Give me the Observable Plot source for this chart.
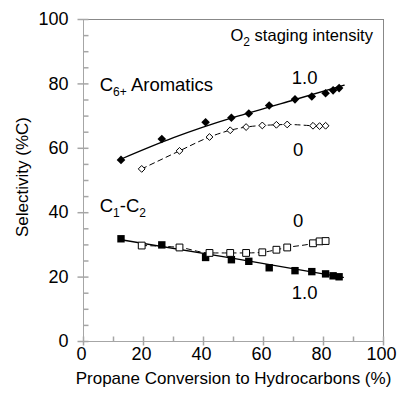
<!DOCTYPE html>
<html><head><meta charset="utf-8">
<script src="https://cdn.jsdelivr.net/npm/d3@7"></script>
<script src="https://cdn.jsdelivr.net/npm/@observablehq/plot@0.6"></script>
<style>body{margin:0;background:#fff}</style>
</head><body><div id="chart"></div>
<script>
// Propane conversion (%) for the two O2 staging intensities
const xStaged = [12.5, 26.1, 40.7, 49.3, 55.1, 61.9, 70.5, 76.1, 80.7, 83.2, 85.2];   // intensity 1.0
const xUnstaged = [19.4, 32.0, 42.0, 48.9, 54.2, 59.6, 64.3, 67.9, 76.5, 78.7, 80.7]; // intensity 0
// Selectivity (%C)
const aromStaged = [56.4, 62.9, 68.1, 69.5, 70.8, 73.3, 75.2, 76.1, 77.1, 78.0, 78.7];
const aromUnstaged = [53.6, 59.2, 63.5, 65.6, 66.6, 67.1, 67.3, 67.4, 67.0, 66.9, 67.0];
const c12Staged = [31.9, 30.0, 26.1, 25.4, 24.9, 22.9, 22.0, 21.7, 21.0, 20.4, 20.1];
const c12Unstaged = [29.8, 29.2, 27.5, 27.5, 27.5, 27.7, 28.5, 29.2, 30.5, 31.1, 31.2];
// trend lines (intensity 1.0)
const fitAromX = [12.4, 30, 50, 70, 86.9];
const fitAromY = [56.6, 63.3, 69.6, 75.0, 79.6];
const fitC12X = [12.5, 50, 86.6];
const fitC12Y = [31.6, 25.8, 19.9];
// axis ticks
const xMajor = [0, 20, 40, 60, 80, 100];
const xMinor = [10, 30, 50, 70, 90];
const yMajor = [0, 20, 40, 60, 80, 100];
const yMinor = [5, 10, 15, 25, 30, 35, 45, 50, 55, 65, 70, 75, 85, 90, 95];
// annotations
const titleText = "O_{2} staging intensity";
const titleX = 49.0, titleY = 95.0;
const labelText = ["C_{6+} Aromatics", "1.0", "0", "C_{1}-C_{2}", "0", "1.0"];
const labelX = [5.4, 69.4, 69.8, 5.4, 69.8, 69.4];
const labelY = [79.6, 81.7, 59.6, 42.2, 37.5, 15.1];

const zip = (xs, ys) => xs.map((x, i) => ({x, y: ys[i]}));
const labels = labelText.map((t, i) => ({t, x: labelX[i], y: labelY[i]}));

const diamond = h => ({draw(c) { c.moveTo(0, -h); c.lineTo(h, 0); c.lineTo(0, h); c.lineTo(-h, 0); c.closePath(); }});
const square = h => ({draw(c) { c.rect(-h, -h, 2 * h, 2 * h); }});
const vTick = (a, b) => ({draw(c) { c.moveTo(0, a); c.lineTo(0, b); }});
const hTick = (a, b) => ({draw(c) { c.moveTo(a, 0); c.lineTo(b, 0); }});
const axisGray = "#a6a6a6";

const plot = Plot.plot({
  width: 397, height: 404,
  marginLeft: 83, marginRight: 14, marginTop: 19, marginBottom: 63,
  x: {domain: [0, 100]},
  y: {domain: [0, 100]},
  style: {fontFamily: "'Liberation Sans', Arial, sans-serif", background: "white", color: "black"},
  marks: [
    Plot.ruleX([100], {stroke: "#888"}),
    Plot.ruleY([100], {stroke: "#888"}),
    Plot.ruleX([0], {stroke: axisGray}),
    Plot.ruleY([0], {stroke: axisGray}),
    Plot.dot(xMinor, {x: d => d, y: 0, symbol: vTick(-5, 0), stroke: axisGray, fill: "none"}),
    Plot.dot(xMajor, {x: d => d, y: 0, symbol: vTick(-5, 4), stroke: axisGray, fill: "none"}),
    Plot.dot(yMinor, {x: 0, y: d => d, symbol: hTick(0, 5), stroke: axisGray, fill: "none"}),
    Plot.dot(yMajor, {x: 0, y: d => d, symbol: hTick(-6, 5), stroke: axisGray, fill: "none"}),
    Plot.axisX({ticks: xMajor, tickSize: 0, tickPadding: 6, fontSize: 18, dx: -2, label: null}),
    Plot.axisY({ticks: yMajor, tickSize: 0, tickPadding: 15, fontSize: 18, label: null}),
    Plot.text(["Propane Conversion to Hydrocarbons (%)"], {frameAnchor: "bottom", textAnchor: "middle", lineAnchor: "middle", dy: 37, fontSize: 17}),
    Plot.text(["Selectivity (%C)"], {frameAnchor: "left", textAnchor: "middle", lineAnchor: "middle", rotate: -90, dx: -60.5, dy: -3.5, fontSize: 17}),
    // lines
    Plot.line(zip(fitAromX, fitAromY), {x: "x", y: "y", curve: "natural", stroke: "black", strokeWidth: 1.3}),
    Plot.line(zip(fitC12X, fitC12Y), {x: "x", y: "y", curve: "natural", stroke: "black", strokeWidth: 1.3}),
    Plot.line(zip(xUnstaged, aromUnstaged), {x: "x", y: "y", curve: "monotone-x", stroke: "black", strokeWidth: 1, strokeDasharray: "5,4"}),
    Plot.line(zip(xUnstaged, c12Unstaged), {x: "x", y: "y", curve: "monotone-x", stroke: "black", strokeWidth: 1, strokeDasharray: "5,4"}),
    // markers
    Plot.dot(zip(xStaged, aromStaged), {x: "x", y: "y", symbol: diamond(4.3), fill: "black", stroke: "none"}),
    Plot.dot(zip(xUnstaged, aromUnstaged), {x: "x", y: "y", symbol: diamond(3.4), fill: "white", stroke: "black", strokeWidth: 1}),
    Plot.dot(zip(xStaged, c12Staged), {x: "x", y: "y", symbol: square(3.7), fill: "black", stroke: "none"}),
    Plot.dot(zip(xUnstaged, c12Unstaged), {x: "x", y: "y", symbol: square(3.4), fill: "white", stroke: "black", strokeWidth: 1}),
    // annotations
    Plot.text([titleText], {x: titleX, y: titleY, textAnchor: "start", lineAnchor: "middle", fontSize: 16.5, fill: "black"}),
    Plot.text(labels, {x: "x", y: "y", text: "t", textAnchor: "start", lineAnchor: "middle", fontSize: 18.5, fill: "black"})
  ]
});

// render subscripts as tspans
plot.querySelectorAll("text").forEach(t => {
  const s = t.textContent;
  if (!s.includes("_{")) return;
  t.textContent = "";
  let prevSub = false;
  for (const p of s.split(/(_\{[^}]*\})/)) {
    if (!p) continue;
    const ts = document.createElementNS("http://www.w3.org/2000/svg", "tspan");
    if (p.startsWith("_{")) {
      ts.textContent = p.slice(2, -1);
      ts.setAttribute("font-size", "12");
      if (!prevSub) ts.setAttribute("dy", "5");
      prevSub = true;
    } else {
      ts.textContent = p;
      if (prevSub) ts.setAttribute("dy", "-5");
      prevSub = false;
    }
    t.appendChild(ts);
  }
});
document.getElementById("chart").appendChild(plot);
</script>
</body></html>
